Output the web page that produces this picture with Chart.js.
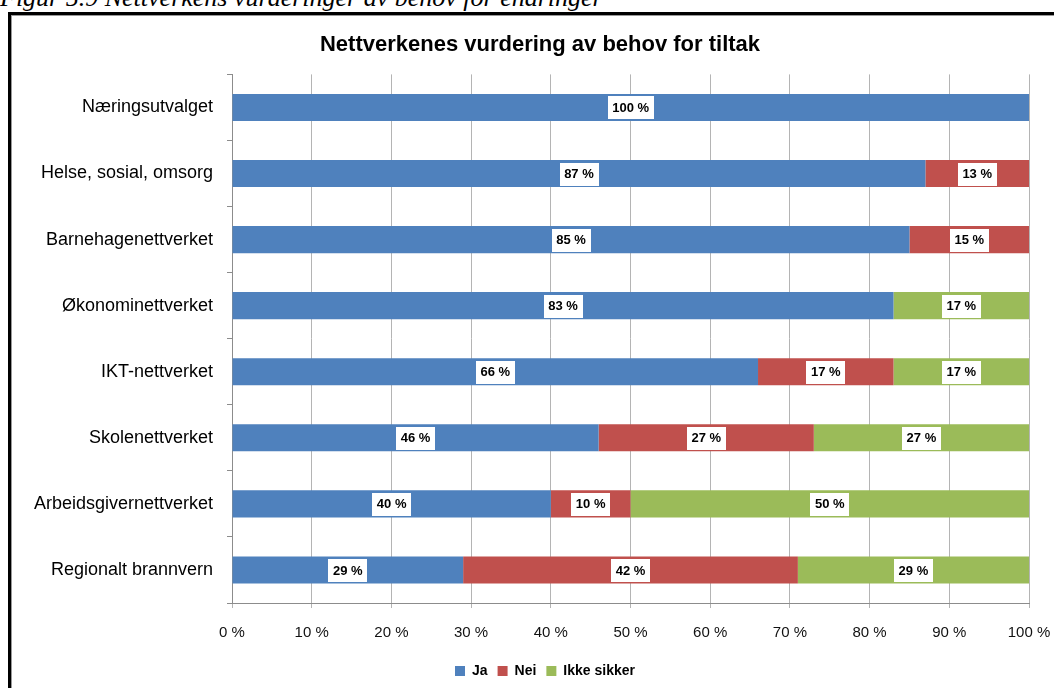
<!DOCTYPE html>
<html>
<head>
<meta charset="utf-8">
<script src="https://cdn.jsdelivr.net/npm/chart.js@4/dist/chart.umd.min.js"></script>
<style>
  body { margin: 0; background: #fff; overflow: hidden; width: 1054px; height: 688px; position: relative; }
  #caption { position: absolute; left: 0; top: -15px; font: italic 26px "Liberation Serif", "Times New Roman", serif; line-height: 26px; white-space: nowrap; color: #000; }
  #frame { position: absolute; left: 8px; top: 12px; width: 1200px; height: 800px; border-left: 3px solid #000; border-top: 3px solid #000; }
  #inner { position: absolute; left: 0; top: 0; width: 1200px; height: 800px; border-left: 1px solid #999; border-top: 1px solid #999; }
  #chart { position: absolute; left: 12px; top: 16px; }
</style>
</head>
<body>
<div id="caption">Figur 5.9 Nettverkens vurderinger av behov for endringer</div>
<div id="frame"><div id="inner"></div></div>
<canvas id="chart" width="1042" height="672"></canvas>
<script>
// kategorier og verdier (prosent)
const networks = ['Næringsutvalget', 'Helse, sosial, omsorg', 'Barnehagenettverket', 'Økonominettverket',
  'IKT-nettverket', 'Skolenettverket', 'Arbeidsgivernettverket', 'Regionalt brannvern'];
const ja = [100, 87, 85, 83, 66, 46, 40, 29];
const nei = [0, 13, 15, 0, 17, 27, 10, 42];
const ikkeSikker = [0, 0, 0, 17, 17, 27, 50, 29];
const xTicks = [0, 10, 20, 30, 40, 50, 60, 70, 80, 90, 100];

const FONT = '"Liberation Sans", Arial, sans-serif';

// tegner verdiene midt i hvert segment, med hvit boks bak
const barLabels = {
  id: 'barLabels',
  afterDatasetsDraw(chart) {
    const ctx = chart.ctx;
    ctx.save();
    ctx.font = 'bold 13px ' + FONT;
    ctx.textAlign = 'center';
    ctx.textBaseline = 'middle';
    chart.data.datasets.forEach((ds, i) => {
      const meta = chart.getDatasetMeta(i);
      meta.data.forEach((bar, j) => {
        const v = ds.data[j];
        if (!v) return;
        const txt = v + ' %';
        const cx = (bar.x + bar.base) / 2;
        const w = ctx.measureText(txt).width + 9;
        ctx.fillStyle = '#fff';
        ctx.fillRect(Math.round(cx - w / 2), Math.round(bar.y - 11), Math.round(w), 23);
        ctx.fillStyle = '#000';
        ctx.fillText(txt, cx, bar.y + 1);
      });
    });
    ctx.restore();
  }
};

// tittel og forklaring står litt til høyre for midten, som i Excel-figuren
const shiftBoxes = {
  id: 'shiftBoxes',
  afterLayout(chart) {
    chart.titleBlock.left = 0;
    chart.titleBlock.right = 1056;
    chart.legend.left = 0;
    chart.legend.right = 1066;
  }
};

document.addEventListener('DOMContentLoaded', () => {
  const ctx = document.getElementById('chart').getContext('2d');
  new Chart(ctx, {
    type: 'bar',
    data: {
      labels: networks,
      datasets: [
        { label: 'Ja', data: ja, backgroundColor: '#4F81BD' },
        { label: 'Nei', data: nei, backgroundColor: '#C0504D' },
        { label: 'Ikke sikker', data: ikkeSikker, backgroundColor: '#9BBB59' }
      ]
    },
    options: {
      indexAxis: 'y',
      responsive: false,
      animation: false,
      devicePixelRatio: 1,
      categoryPercentage: 1,
      barPercentage: 0.41,
      layout: { padding: { left: 0, right: 25, bottom: 0 } },
      scales: {
        x: {
          stacked: true,
          min: 0,
          max: 100,
          afterBuildTicks: (scale) => { scale.ticks = xTicks.map(v => ({ value: v })); },
          afterFit: (scale) => {
            scale.height = 51;
            scale.paddingLeft = 0;
            scale.paddingRight = 0;
          },
          ticks: {
            callback: (v) => v + ' %',
            font: { family: FONT, size: 15 },
            color: '#111',
            padding: 16,
            maxRotation: 0
          },
          grid: { color: '#b4b4b4', tickLength: 5, lineWidth: 1 },
          border: { color: '#8c8c8c', width: 1 }
        },
        y: {
          stacked: true,
          afterFit: (scale) => { scale.width = 220; },
          ticks: {
            font: { family: FONT, size: 18 },
            color: '#000',
            padding: 14
          },
          grid: { drawOnChartArea: false, offset: true, tickLength: 5, color: '#8c8c8c' },
          border: { color: '#8c8c8c', width: 1 }
        }
      },
      plugins: {
        title: {
          display: true,
          text: 'Nettverkenes vurdering av behov for tiltak',
          font: { family: FONT, size: 22, weight: 'bold' },
          color: '#000',
          padding: { top: 16, bottom: 16 }
        },
        legend: {
          position: 'bottom',
          labels: {
            boxWidth: 10,
            boxHeight: 10,
            padding: 10,
            color: '#000',
            font: { family: FONT, size: 14, weight: 'bold' }
          }
        },
        tooltip: { enabled: false }
      }
    },
    plugins: [barLabels, shiftBoxes]
  });
});
</script>
</body>
</html>
